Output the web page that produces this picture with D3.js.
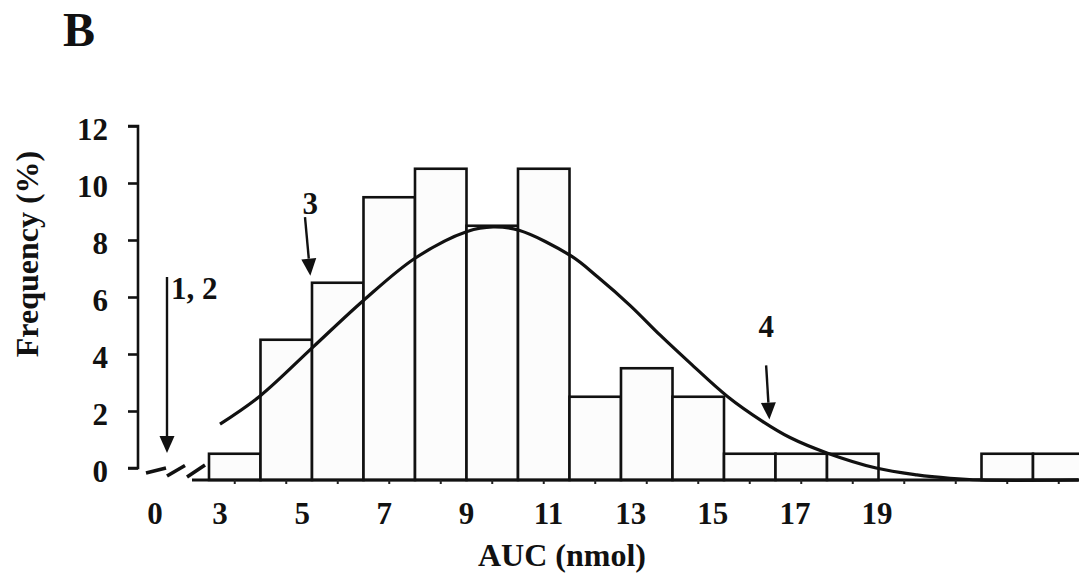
<!DOCTYPE html>
<html>
<head>
<meta charset="utf-8">
<script src="https://cdn.jsdelivr.net/npm/d3@7/dist/d3.min.js"></script>
<style>
  html, body { margin: 0; padding: 0; background: #ffffff; }
  svg { display: block; }
  text { font-family: "Liberation Serif", "Times New Roman", serif; font-weight: bold; fill: #111; }
</style>
</head>
<body>
<svg id="chart" width="1079" height="579"></svg>
<script>
// Histogram bins (frequency, %)
const binIds = ["b1","b2","b3","b4","b5","b6","b7","b8","b9","b10","b11","b12","b13","b14","b15","b16","b17"];
const binFreq = [0.5, 4.5, 6.5, 9.5, 10.5, 8.5, 10.5, 2.5, 3.5, 2.5, 0.5, 0.5, 0.5, 0, 0, 0.5, 0.5];

// Fitted distribution curve (AUC, frequency)
const curveAuc  = [3.0, 3.97, 5.27, 6.48, 7.75, 9.02, 9.65, 10.28, 11.55, 12.2, 12.99, 13.72, 14.45, 15.35, 16.22, 16.88, 17.78, 18.98, 19.97, 20.78, 21.5, 23.9];
const curveFreq = [1.54, 2.52, 4.25, 5.86, 7.36, 8.3, 8.46, 8.34, 7.44, 6.7, 5.7, 4.66, 3.68, 2.52, 1.63, 1.07, 0.53, 0.0, -0.24, -0.36, -0.42, -0.42];

// Axis tick labels
const yTicks = [0, 2, 4, 6, 8, 10, 12];
const xTickLabels = [3, 5, 7, 9, 11, 13, 15, 17, 19];
const xBreakLabel = "0";

// Annotation arrows: label, label anchor, arrow start, arrow tip (AUC units / frequency)
const notes = [
  { text: "3", lx: 5.2,  ly: 8.9,  x0: 5.07,  y0: 8.8,  x1: 5.2,  y1: 6.75 },
  { text: "4", lx: 16.3, ly: 4.6,  x0: 16.3,  y0: 3.6,  x1: 16.38, y1: 1.7 }
];

const svg = d3.select("#chart");

const y = d3.scaleLinear().domain([0, 12]).range([468, 126]);
const xBin = d3.scaleBand().domain(binIds).range([209, 209 + 17 * 51.5]).padding(0);
const xAuc = d3.scaleLinear().domain([3, 19]).range([220, 877]);
const baseY = y(0) + 12;

// Panel letter
svg.append("text").attr("x", 63).attr("y", 46).attr("font-size", 48).text("B");

// Bars
svg.append("g").selectAll("rect")
  .data(binIds.map((id, i) => ({ id, v: binFreq[i] })).filter(d => d.v > 0))
  .join("rect")
  .attr("x", d => xBin(d.id))
  .attr("y", d => y(d.v))
  .attr("width", xBin.bandwidth())
  .attr("height", d => baseY - y(d.v))
  .attr("fill", "#fcfcfc")
  .attr("stroke", "#111")
  .attr("stroke-width", 2.6);

// Horizontal axis line with small ticks at bin centres
svg.append("line")
  .attr("x1", 192).attr("x2", 1079)
  .attr("y1", baseY).attr("y2", baseY)
  .attr("stroke", "#111").attr("stroke-width", 2.8);

svg.append("g").selectAll("line")
  .data(binIds)
  .join("line")
  .attr("x1", d => xBin(d) + xBin.bandwidth() / 2)
  .attr("x2", d => xBin(d) + xBin.bandwidth() / 2)
  .attr("y1", baseY).attr("y2", baseY + 4)
  .attr("stroke", "#222").attr("stroke-width", 2);

// Axis break marks
const breaks = [[146, 473, 166, 468], [167, 476, 185, 465.5], [187, 477, 205, 465]];
svg.append("g").selectAll("line")
  .data(breaks)
  .join("line")
  .attr("x1", d => d[0]).attr("y1", d => d[1])
  .attr("x2", d => d[2]).attr("y2", d => d[3])
  .attr("stroke", "#111").attr("stroke-width", 3.6);

// X tick labels
svg.append("g").selectAll("text")
  .data(xTickLabels)
  .join("text")
  .attr("x", d => xAuc(d))
  .attr("y", 524)
  .attr("text-anchor", "middle")
  .attr("font-size", 31)
  .text(d => d);

svg.append("text")
  .attr("x", 155).attr("y", 524)
  .attr("text-anchor", "middle")
  .attr("font-size", 31)
  .text(xBreakLabel);

// Vertical axis
const yAxis = d3.axisLeft(y).tickValues(yTicks).tickSize(10).tickPadding(20);
const gy = svg.append("g").attr("transform", "translate(138,0)").call(yAxis);
gy.select(".domain").attr("stroke", "#111").attr("stroke-width", 2.6).attr("d", `M-10,${y(12)}H0V${y(0)}H-10`);
gy.selectAll(".tick line").attr("stroke", "#111").attr("stroke-width", 2.6);
gy.selectAll(".tick text")
  .attr("font-size", 31)
  .attr("font-family", "Liberation Serif, serif")
  .attr("font-weight", "bold")
  .attr("fill", "#111")
  .attr("dy", "0.45em");

// Axis titles
svg.append("text")
  .attr("transform", "translate(38,254) rotate(-90)")
  .attr("text-anchor", "middle")
  .attr("font-size", 32)
  .text("Frequency (%)");

svg.append("text")
  .attr("x", 562).attr("y", 566)
  .attr("text-anchor", "middle")
  .attr("font-size", 32)
  .text("AUC (nmol)");

// Fitted curve
const line = d3.line()
  .x((d, i) => xAuc(curveAuc[i]))
  .y(d => y(d))
  .curve(d3.curveCatmullRom.alpha(0.5));

svg.append("path")
  .datum(curveFreq)
  .attr("d", line)
  .attr("fill", "none")
  .attr("stroke", "#111")
  .attr("stroke-width", 3.2);

// Arrow drawing helper
function arrow(x0, y0, x1, y1) {
  const ang = Math.atan2(y1 - y0, x1 - x0);
  const len = 17, half = 7.5;
  const bx = x1 - len * Math.cos(ang), by = y1 - len * Math.sin(ang);
  const px = -Math.sin(ang) * half, py = Math.cos(ang) * half;
  svg.append("line")
    .attr("x1", x0).attr("y1", y0).attr("x2", bx).attr("y2", by)
    .attr("stroke", "#111").attr("stroke-width", 2.4);
  svg.append("path")
    .attr("d", `M${x1},${y1}L${bx + px},${by + py}L${bx - px},${by - py}Z`)
    .attr("fill", "#111");
}

// Arrow for the values on the broken part of the axis
arrow(167, 277, 167, 453);
svg.append("text").attr("x", 171).attr("y", 299).attr("font-size", 31).text("1, 2");

notes.forEach(n => {
  arrow(xAuc(n.x0), y(n.y0), xAuc(n.x1), y(n.y1));
  svg.append("text")
    .attr("x", xAuc(n.lx)).attr("y", y(n.ly))
    .attr("text-anchor", "middle")
    .attr("font-size", 31)
    .text(n.text);
});
</script>
</body>
</html>
